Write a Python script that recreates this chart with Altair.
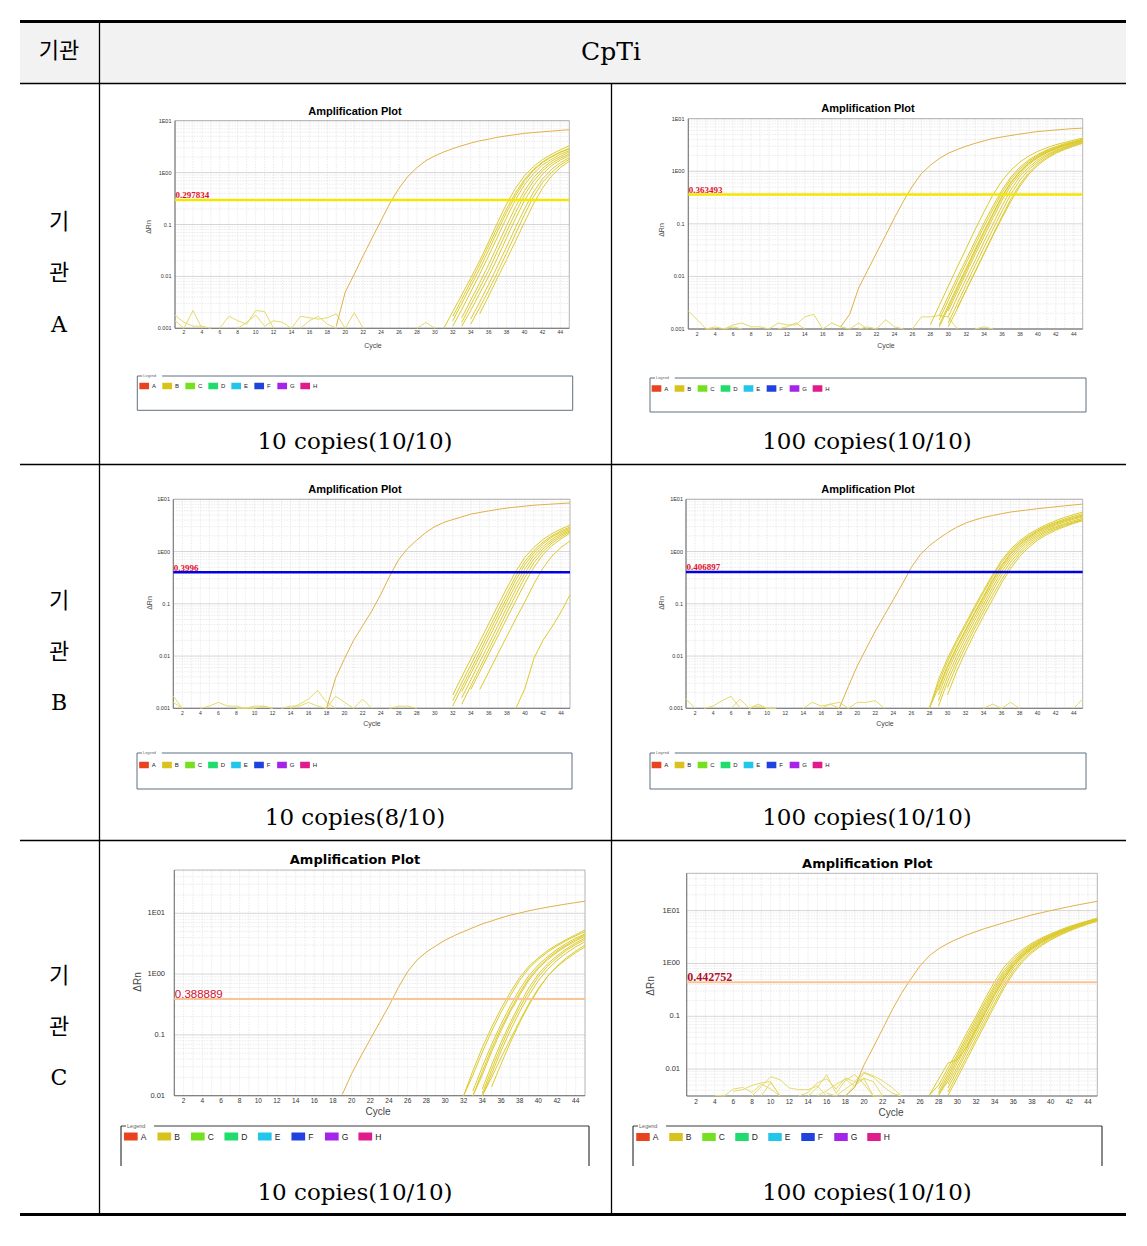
import altair as alt
import pandas as pd

# ---------------- values ----------------
# each curve: (first cycle, [delta Rn at consecutive cycles])
A10_early = [(19, [0.0011, 0.005, 0.011, 0.025, 0.055, 0.12, 0.26, 0.5, 0.85, 1.25, 1.7, 2.1, 2.5, 2.9,
                   3.3, 3.7, 4.1, 4.4, 4.8, 5.1, 5.4, 5.7, 5.9, 6.1, 6.3, 6.5, 6.7])]
A10_bundle = [
    (31, [0.001, 0.0021, 0.0044, 0.0093, 0.02, 0.046, 0.11, 0.25, 0.5, 0.87, 1.3, 1.78, 2.25, 2.75, 3.3]),
    (32, [0.0017, 0.0036, 0.0078, 0.017, 0.039, 0.09, 0.2, 0.41, 0.74, 1.15, 1.6, 2.05, 2.5, 2.95]),
    (32, [0.0014, 0.003, 0.0065, 0.014, 0.032, 0.075, 0.17, 0.36, 0.68, 1.1, 1.55, 2.0, 2.45, 2.85]),
    (32, [0.0011, 0.0023, 0.005, 0.011, 0.025, 0.058, 0.135, 0.3, 0.58, 0.95, 1.4, 1.8, 2.25, 2.65]),
    (33, [0.0016, 0.0035, 0.0075, 0.017, 0.04, 0.095, 0.22, 0.45, 0.8, 1.2, 1.65, 2.05, 2.5]),
    (33, [0.0013, 0.0028, 0.006, 0.013, 0.031, 0.073, 0.17, 0.37, 0.68, 1.08, 1.5, 1.9, 2.3]),
    (33, [0.0011, 0.0022, 0.0047, 0.01, 0.023, 0.055, 0.13, 0.29, 0.56, 0.93, 1.35, 1.75, 2.15]),
    (34, [0.0015, 0.0032, 0.007, 0.016, 0.037, 0.088, 0.2, 0.42, 0.75, 1.15, 1.55, 1.95]),
    (34, [0.0012, 0.0025, 0.0054, 0.012, 0.028, 0.066, 0.155, 0.34, 0.64, 1.0, 1.4, 1.8]),
    (35, [0.0019, 0.0042, 0.0095, 0.021, 0.048, 0.11, 0.25, 0.5, 0.85, 1.25, 1.65]),
]
A10_noise = [
    (1, [0.0018, 0.0013, 0.0011, 0.0011, 0.001]),
    (1, [0.0014, 0.001, 0.0022, 0.001]),
    (6, [0.001, 0.0017, 0.0014, 0.0012, 0.0022, 0.0021, 0.001]),
    (8, [0.001, 0.0013, 0.0018, 0.0011, 0.0014, 0.0013, 0.001]),
    (14, [0.001, 0.0017, 0.0016, 0.0015, 0.0016, 0.0019, 0.001]),
    (15, [0.001, 0.0014, 0.0017, 0.0012, 0.001]),
    (20, [0.001, 0.002, 0.001]),
    (28, [0.001, 0.0013, 0.001]),
]

A100_early = [(18, [0.0011, 0.0019, 0.006, 0.013, 0.028, 0.06, 0.13, 0.27, 0.52, 0.9, 1.3, 1.75, 2.2, 2.6,
                    3.0, 3.4, 3.8, 4.2, 4.5, 4.8, 5.1, 5.4, 5.7, 5.9, 6.1, 6.3, 6.5, 6.6])]
A100_bundle = [
    (28, [0.0012, 0.0028, 0.0065, 0.015, 0.034, 0.078, 0.17, 0.36, 0.66, 1.05, 1.5, 1.95, 2.4, 2.8, 3.2, 3.55, 3.9, 4.3]),
    (29, [0.0018, 0.0042, 0.0095, 0.021, 0.047, 0.105, 0.22, 0.44, 0.78, 1.2, 1.65, 2.1, 2.55, 2.95, 3.35, 3.7, 4.1]),
    (29, [0.0015, 0.0035, 0.008, 0.018, 0.04, 0.09, 0.19, 0.39, 0.71, 1.1, 1.55, 2.0, 2.45, 2.85, 3.25, 3.6, 4.0]),
    (29, [0.0012, 0.0028, 0.0064, 0.0145, 0.033, 0.074, 0.16, 0.34, 0.63, 1.0, 1.45, 1.9, 2.35, 2.75, 3.15, 3.5, 3.85]),
    (29, [0.0011, 0.0025, 0.0058, 0.013, 0.03, 0.068, 0.15, 0.32, 0.6, 0.98, 1.42, 1.88, 2.32, 2.72, 3.1, 3.45, 3.8]),
    (30, [0.0022, 0.005, 0.0115, 0.026, 0.058, 0.13, 0.28, 0.54, 0.9, 1.35, 1.8, 2.25, 2.65, 3.05, 3.45, 3.85]),
    (30, [0.0017, 0.004, 0.009, 0.02, 0.046, 0.1, 0.22, 0.45, 0.8, 1.2, 1.65, 2.1, 2.5, 2.9, 3.3, 3.7]),
    (30, [0.0013, 0.003, 0.007, 0.016, 0.036, 0.08, 0.175, 0.37, 0.68, 1.08, 1.52, 1.98, 2.4, 2.8, 3.2, 3.6]),
    (30, [0.0011, 0.0024, 0.0055, 0.0125, 0.028, 0.063, 0.14, 0.3, 0.57, 0.95, 1.4, 1.85, 2.3, 2.7, 3.1, 3.5]),
    (31, [0.0025, 0.0055, 0.012, 0.027, 0.06, 0.13, 0.27, 0.52, 0.88, 1.3, 1.75, 2.2, 2.6, 3.0, 3.4]),
]
A100_noise = [
    (1, [0.0022, 0.0015, 0.001, 0.001]),
    (3, [0.001, 0.0011, 0.001, 0.0011, 0.001]),
    (5, [0.001, 0.0012, 0.0013, 0.0011, 0.0011, 0.001]),
    (10, [0.001, 0.0013, 0.0012, 0.0012, 0.0017, 0.0019, 0.001]),
    (11, [0.001, 0.0011, 0.0013, 0.001]),
    (16, [0.001, 0.0013, 0.0011, 0.001, 0.0013, 0.001]),
    (20, [0.001, 0.0011, 0.001, 0.0015, 0.0011, 0.001]),
    (26, [0.001, 0.0017, 0.0017, 0.0018, 0.0017, 0.001]),
    (33, [0.001, 0.0011, 0.001]),
]

B10_early = [(18, [0.001, 0.0038, 0.009, 0.02, 0.038, 0.072, 0.15, 0.34, 0.7, 1.15, 1.65, 2.3, 3.0, 3.6,
                   4.1, 4.6, 5.2, 5.6, 6.0, 6.4, 6.8, 7.1, 7.4, 7.7, 7.9, 8.1, 8.3, 8.5])]
B10_bundle = [
    (32, [0.0018, 0.004, 0.0088, 0.019, 0.042, 0.093, 0.2, 0.42, 0.78, 1.2, 1.7, 2.2, 2.7, 3.2]),
    (32, [0.0014, 0.0031, 0.0068, 0.015, 0.033, 0.073, 0.16, 0.34, 0.65, 1.05, 1.52, 2.0, 2.5, 2.95]),
    (32, [0.0011, 0.0025, 0.0055, 0.012, 0.027, 0.06, 0.13, 0.29, 0.56, 0.95, 1.4, 1.9, 2.35, 2.8]),
    (33, [0.0021, 0.0046, 0.01, 0.022, 0.049, 0.108, 0.235, 0.47, 0.83, 1.25, 1.72, 2.2, 2.65]),
    (33, [0.0016, 0.0035, 0.0078, 0.017, 0.038, 0.085, 0.19, 0.39, 0.72, 1.12, 1.58, 2.05, 2.5]),
    (33, [0.0012, 0.0027, 0.006, 0.0135, 0.03, 0.068, 0.15, 0.32, 0.61, 1.0, 1.45, 1.9, 2.4]),
    (34, [0.0023, 0.005, 0.011, 0.024, 0.053, 0.115, 0.25, 0.5, 0.87, 1.3, 1.75, 2.25]),
    (35, [0.0023, 0.005, 0.011, 0.024, 0.052, 0.11, 0.24, 0.48, 0.82, 1.2, 1.6]),
    (39, [0.001, 0.0024, 0.009, 0.02, 0.036, 0.07, 0.148]),
]
B10_noise = [
    (1, [0.0017, 0.001]),
    (1, [0.0013, 0.001]),
    (4, [0.001, 0.0011, 0.0013, 0.0011, 0.0011, 0.001, 0.001, 0.0011, 0.001]),
    (8, [0.001, 0.001, 0.0011, 0.0011, 0.001]),
    (13, [0.001, 0.0011, 0.0011, 0.0013, 0.0011, 0.001]),
    (14, [0.001, 0.0012, 0.0015, 0.0022, 0.0013, 0.001]),
    (18, [0.001, 0.0017, 0.0013, 0.001]),
    (21, [0.001, 0.0015, 0.001]),
    (25, [0.001, 0.0011, 0.0011, 0.001]),
]

B100_early = [(18, [0.001, 0.0026, 0.0065, 0.014, 0.03, 0.06, 0.12, 0.24, 0.5, 0.88, 1.3, 1.75, 2.3, 2.9,
                    3.5, 4.0, 4.5, 4.9, 5.3, 5.7, 6.0, 6.3, 6.6, 6.9, 7.2, 7.5, 7.8, 8.1])]
B100_bundle = [
    (28, [0.001, 0.0035, 0.009, 0.02, 0.042, 0.088, 0.18, 0.36, 0.68, 1.1, 1.6, 2.15, 2.7, 3.3, 3.9, 4.5, 5.1, 5.7]),
    (28, [0.001, 0.003, 0.0078, 0.018, 0.038, 0.08, 0.165, 0.33, 0.62, 1.02, 1.5, 2.0, 2.55, 3.1, 3.65, 4.2, 4.75, 5.3]),
    (28, [0.001, 0.0025, 0.0065, 0.015, 0.032, 0.068, 0.14, 0.29, 0.55, 0.93, 1.4, 1.9, 2.45, 3.0, 3.5, 4.0, 4.5, 5.0]),
    (29, [0.0022, 0.006, 0.014, 0.03, 0.064, 0.13, 0.27, 0.52, 0.88, 1.33, 1.82, 2.35, 2.85, 3.35, 3.85, 4.35, 4.8]),
    (29, [0.0018, 0.005, 0.012, 0.026, 0.055, 0.115, 0.24, 0.47, 0.8, 1.22, 1.7, 2.2, 2.7, 3.2, 3.7, 4.15, 4.6]),
    (29, [0.0014, 0.004, 0.0098, 0.022, 0.047, 0.098, 0.205, 0.41, 0.72, 1.12, 1.58, 2.05, 2.55, 3.0, 3.45, 3.9, 4.3]),
    (29, [0.0011, 0.0032, 0.008, 0.018, 0.039, 0.083, 0.175, 0.35, 0.63, 1.0, 1.45, 1.92, 2.4, 2.85, 3.3, 3.7, 4.1]),
    (30, [0.0025, 0.0065, 0.015, 0.033, 0.07, 0.145, 0.29, 0.54, 0.9, 1.32, 1.78, 2.25, 2.7, 3.15, 3.6, 4.0]),
    (30, [0.0018, 0.005, 0.012, 0.027, 0.058, 0.12, 0.25, 0.47, 0.8, 1.2, 1.65, 2.1, 2.55, 3.0, 3.45, 3.9]),
]
B100_noise = [
    (1, [0.0015, 0.001]),
    (3, [0.001, 0.0011, 0.0014, 0.0017, 0.001]),
    (6, [0.001, 0.0015, 0.001, 0.0012, 0.001]),
    (8, [0.001, 0.0011, 0.001, 0.001]),
    (14, [0.001, 0.0013, 0.0011, 0.0012, 0.0013, 0.001]),
    (16, [0.001, 0.0012, 0.001]),
    (19, [0.001, 0.0013, 0.0013, 0.0014, 0.001]),
    (34, [0.001, 0.0012, 0.001, 0.0013, 0.001]),
    (44, [0.001, 0.0015]),
]

C10_early = [(19, [0.0105, 0.023, 0.045, 0.085, 0.16, 0.3, 0.6, 1.1, 1.7, 2.3, 2.9, 3.6, 4.3, 5.0, 5.8,
                   6.7, 7.5, 8.4, 9.3, 10.1, 11.0, 11.8, 12.6, 13.4, 14.2, 15.0, 15.8])]
C10_bundle = [
    (32, [0.01, 0.026, 0.062, 0.135, 0.27, 0.5, 0.88, 1.35, 1.85, 2.45, 3.05, 3.7, 4.45, 5.3]),
    (32, [0.01, 0.022, 0.052, 0.115, 0.235, 0.44, 0.79, 1.25, 1.75, 2.3, 2.9, 3.55, 4.25, 5.0]),
    (33, [0.012, 0.03, 0.07, 0.15, 0.3, 0.56, 0.95, 1.42, 1.95, 2.55, 3.2, 3.9, 4.6]),
    (33, [0.01, 0.025, 0.06, 0.13, 0.26, 0.49, 0.86, 1.3, 1.82, 2.4, 3.0, 3.7, 4.4]),
    (33, [0.01, 0.022, 0.053, 0.117, 0.24, 0.45, 0.8, 1.23, 1.72, 2.28, 2.88, 3.5, 4.2]),
    (34, [0.013, 0.032, 0.075, 0.16, 0.32, 0.6, 1.0, 1.48, 2.0, 2.6, 3.25, 3.9]),
    (34, [0.011, 0.027, 0.064, 0.14, 0.28, 0.52, 0.9, 1.35, 1.85, 2.45, 3.05, 3.7]),
    (34, [0.01, 0.023, 0.054, 0.118, 0.24, 0.45, 0.78, 1.2, 1.68, 2.22, 2.8, 3.4]),
    (35, [0.014, 0.033, 0.075, 0.16, 0.31, 0.56, 0.92, 1.35, 1.85, 2.4, 3.0]),
    (34, [0.01, 0.02, 0.042, 0.085, 0.17, 0.33, 0.58, 0.92, 1.32, 1.75, 2.25, 2.8]),
]
C10_noise = []

C100_early = [(18, [0.0031, 0.0045, 0.012, 0.026, 0.058, 0.13, 0.27, 0.5, 0.9, 1.4, 1.9, 2.4, 2.9, 3.45, 4.0,
                    4.6, 5.2, 5.9, 6.6, 7.4, 8.3, 9.1, 10.0, 10.9, 11.9, 12.9, 13.9, 15.0])]
C100_bundle = [
    (27, [0.0032, 0.005, 0.0105, 0.022, 0.048, 0.1, 0.22, 0.45, 0.85, 1.32, 1.85, 2.42, 3.02, 3.65, 4.3, 5.0, 5.7, 6.4, 7.2]),
    (28, [0.0042, 0.009, 0.019, 0.041, 0.088, 0.19, 0.39, 0.74, 1.2, 1.72, 2.3, 2.9, 3.5, 4.15, 4.85, 5.55, 6.3, 7.0]),
    (28, [0.0036, 0.0078, 0.017, 0.036, 0.078, 0.17, 0.35, 0.67, 1.1, 1.62, 2.2, 2.8, 3.4, 4.05, 4.75, 5.45, 6.2, 6.9]),
    (28, [0.0033, 0.0068, 0.015, 0.032, 0.069, 0.15, 0.32, 0.61, 1.03, 1.54, 2.1, 2.7, 3.32, 3.98, 4.65, 5.35, 6.1, 6.8]),
    (28, [0.0032, 0.006, 0.013, 0.028, 0.061, 0.133, 0.285, 0.56, 0.97, 1.47, 2.02, 2.62, 3.25, 3.9, 4.58, 5.3, 6.0, 6.7]),
    (29, [0.0052, 0.011, 0.024, 0.052, 0.115, 0.25, 0.5, 0.9, 1.38, 1.92, 2.52, 3.15, 3.8, 4.48, 5.2, 5.95, 6.7]),
    (29, [0.0044, 0.0095, 0.021, 0.045, 0.098, 0.215, 0.44, 0.82, 1.3, 1.84, 2.42, 3.05, 3.7, 4.38, 5.1, 5.85, 6.6]),
    (29, [0.0037, 0.008, 0.0175, 0.038, 0.083, 0.18, 0.38, 0.72, 1.18, 1.7, 2.28, 2.9, 3.55, 4.22, 4.95, 5.7, 6.45]),
    (29, [0.0032, 0.0068, 0.015, 0.033, 0.072, 0.158, 0.34, 0.65, 1.08, 1.6, 2.16, 2.78, 3.42, 4.1, 4.82, 5.55, 6.3]),
    (27, [0.0032, 0.0065, 0.013, 0.015, 0.026, 0.056, 0.12, 0.26, 0.52, 0.92, 1.42, 1.97, 2.57, 3.2, 3.85, 4.55, 5.3, 6.05, 6.8]),
]
C100_noise = [
    (4, [0.0032, 0.0031, 0.0042, 0.0045, 0.0036, 0.0052, 0.0042, 0.0031]),
    (6, [0.0038, 0.0041, 0.0049, 0.0055, 0.0058, 0.0031]),
    (8, [0.0031, 0.0047, 0.0072, 0.0063, 0.0044, 0.0041, 0.0041, 0.0048, 0.0031]),
    (9, [0.0031, 0.0056, 0.0031]),
    (13, [0.0031, 0.0036, 0.0055, 0.0066, 0.0042, 0.0068, 0.0058, 0.0087, 0.0075, 0.006, 0.0045, 0.0031]),
    (14, [0.0031, 0.0045, 0.0078, 0.0035, 0.0061, 0.0079, 0.0052, 0.0031, 0.0031]),
    (15, [0.0031, 0.0039, 0.0052, 0.0064, 0.0048, 0.0084, 0.0071, 0.0048, 0.0035, 0.0031]),
    (16, [0.0035, 0.0031, 0.0042, 0.0056, 0.0067, 0.0058, 0.0031]),
    (18, [0.0031, 0.0049, 0.0066, 0.0031]),
]

thresholds = {"A10": 0.297834, "A100": 0.363493, "B10": 0.3996, "B100": 0.406897,
              "C10": 0.388889, "C100": 0.442752}
threshold_labels = {"A10": "0.297834", "A100": "0.363493", "B10": "0.3996", "B100": "0.406897",
                    "C10": "0.388889", "C100": "0.442752"}
captions = {"A10": "10 copies(10/10)", "A100": "100 copies(10/10)", "B10": "10 copies(8/10)",
            "B100": "100 copies(10/10)", "C10": "10 copies(10/10)", "C100": "100 copies(10/10)"}
row_labels = {"A": ["기", "관", "A"], "B": ["기", "관", "B"], "C": ["기", "관", "C"]}
header_left = "기관"
header_right = "CpTi"
plot_title = "Amplification Plot"

x_tick_cycles = [2, 4, 6, 8, 10, 12, 14, 16, 18, 20, 22, 24, 26, 28, 30, 32, 34, 36, 38, 40, 42, 44]
y_ticks_AB = [10, 1, 0.1, 0.01, 0.001]
y_tick_labels_AB = ["1E01", "1E00", "0.1", "0.01", "0.001"]
y_ticks_C = [10, 1, 0.1, 0.01]
y_tick_labels_C = ["1E01", "1E00", "0.1", "0.01"]

legend_labels = ["A", "B", "C", "D", "E", "F", "G", "H"]
legend_colors = ["#e8421e", "#d9c21c", "#74e01f", "#1fdc6c", "#22c6ea", "#2042df", "#a623ea", "#e01b8c"]

# ---------------- layout ----------------
def P(v):
    return v - 8  # page pixel -> chart pixel (8px page margin)

SERIF = "DejaVu Serif"
SANS = "Liberation Sans"
KR = "Noto Sans CJK KR"
ONE = pd.DataFrame({"k": [0]})

PANELS = [
    dict(key="A10", early=A10_early, bundle=A10_bundle, noise=A10_noise,
         x0=175, x1=569.3, yt=120.7, yb=328.3, ydom=[0.001, 10], yt_v=y_ticks_AB, yt_l=y_tick_labels_AB,
         title=(355, 111.5), tsize=11, tfont=SANS, cycle=(373, 345.5), drn=(148.5, 227), ylab_x=171.5,
         xlab_y=332, fs_y=5.5, fs_x=5, fs_c=7, thr_color="#f3e600", thr_w=2.5,
         thr_font="Liberation Serif", thr_size=9, thr_fc="#e0102a", thr_weight="bold"),
    dict(key="A100", early=A100_early, bundle=A100_bundle, noise=A100_noise,
         x0=688.3, x1=1082.7, yt=118.7, yb=329, ydom=[0.001, 10], yt_v=y_ticks_AB, yt_l=y_tick_labels_AB,
         title=(868, 109), tsize=11, tfont=SANS, cycle=(886, 346), drn=(661.5, 230), ylab_x=684.5,
         xlab_y=334, fs_y=5.5, fs_x=5, fs_c=7, thr_color="#f3e600", thr_w=2.5,
         thr_font="Liberation Serif", thr_size=9, thr_fc="#e0102a", thr_weight="bold"),
    dict(key="B10", early=B10_early, bundle=B10_bundle, noise=B10_noise,
         x0=173.3, x1=570, yt=499.3, yb=708.3, ydom=[0.001, 10], yt_v=y_ticks_AB, yt_l=y_tick_labels_AB,
         title=(355, 490), tsize=11, tfont=SANS, cycle=(372, 724), drn=(150, 603), ylab_x=170,
         xlab_y=712.5, fs_y=5.5, fs_x=5, fs_c=7, thr_color="#0000e0", thr_w=2.5,
         thr_font="Liberation Serif", thr_size=9, thr_fc="#e0102a", thr_weight="bold"),
    dict(key="B100", early=B100_early, bundle=B100_bundle, noise=B100_noise,
         x0=686, x1=1082.7, yt=499.3, yb=708.3, ydom=[0.001, 10], yt_v=y_ticks_AB, yt_l=y_tick_labels_AB,
         title=(868, 490), tsize=11, tfont=SANS, cycle=(885, 724), drn=(661.5, 603), ylab_x=683,
         xlab_y=712.5, fs_y=5.5, fs_x=5, fs_c=7, thr_color="#0000e0", thr_w=2.5,
         thr_font="Liberation Serif", thr_size=9, thr_fc="#e0102a", thr_weight="bold"),
    dict(key="C10", early=C10_early, bundle=C10_bundle, noise=C10_noise,
         x0=174.3, x1=585, yt=870, yb=1095.7, ydom=[0.01, 51.5], yt_v=y_ticks_C, yt_l=y_tick_labels_C,
         title=(355, 860), tsize=13, tfont="DejaVu Sans", cycle=(378, 1112), drn=(137.5, 982), ylab_x=165,
         xlab_y=1100.5, fs_y=7.5, fs_x=6.5, fs_c=10, thr_color="#f8c596", thr_w=2,
         thr_font=SANS, thr_size=11.5, thr_fc="#d01030", thr_weight="normal"),
    dict(key="C100", early=C100_early, bundle=C100_bundle, noise=C100_noise,
         x0=686.7, x1=1097.3, yt=873.3, yb=1096, ydom=[0.0031, 50.8], yt_v=y_ticks_C, yt_l=y_tick_labels_C,
         title=(867.3, 864), tsize=13, tfont="DejaVu Sans", cycle=(891, 1113), drn=(650.5, 986), ylab_x=680,
         xlab_y=1102, fs_y=7.5, fs_x=6.5, fs_c=10, thr_color="#f8c596", thr_w=2,
         thr_font="Liberation Serif", thr_size=12, thr_fc="#b01028", thr_weight="bold"),
]

LEGENDS = [
    dict(box=(137.3, 572.7, 376, 410.3), c0=144.2, sp=23, w=9.7, h=6.5, y=386, fs=6, open=False),
    dict(box=(650, 1086, 378, 412), c0=656.5, sp=23, w=9.7, h=6.5, y=388.5, fs=6, open=False),
    dict(box=(137, 572, 753, 789), c0=144, sp=23, w=9.7, h=6.5, y=765, fs=6, open=False),
    dict(box=(650, 1086, 753, 789), c0=656.5, sp=23, w=9.7, h=6.5, y=765, fs=6, open=False),
    dict(box=(121, 589, 1126, 1166), c0=130.8, sp=33.5, w=13.7, h=8, y=1136.5, fs=8.5, open=True),
    dict(box=(633, 1102, 1126, 1166), c0=643, sp=33, w=13.5, h=8, y=1137, fs=8.5, open=True),
]

CAPTION_XY = {"A10": (355, 442), "A100": (867, 442), "B10": (355, 818), "B100": (867, 818),
              "C10": (355, 1193), "C100": (867, 1193)}


def txt(s, x, y, size, font, color="#000000", weight="normal", angle=0, align="center",
        baseline="middle"):
    return alt.Chart(pd.DataFrame({"t": [s]})).mark_text(
        fontSize=size, font=font, color=color, fontWeight=weight, angle=angle, align=align,
        baseline=baseline).encode(text="t:N", x=alt.value(P(x)), y=alt.value(P(y)))


def hrule(x0, x1, y, w=1.3, color="#000000"):
    return alt.Chart(ONE).mark_rule(color=color, strokeWidth=w).encode(
        x=alt.value(P(x0)), x2=alt.value(P(x1)), y=alt.value(P(y)))


def vrule(x, y0, y1, w=1.3, color="#000000"):
    return alt.Chart(ONE).mark_rule(color=color, strokeWidth=w).encode(
        x=alt.value(P(x)), y=alt.value(P(y0)), y2=alt.value(P(y1)))


def curves_df(early, bundle, noise):
    rows = []
    for kind, group in (("noise", noise), ("bundle", bundle), ("early", early)):
        for i, (start, vals) in enumerate(group):
            for j, v in enumerate(vals):
                c = start + j
                if c <= 45:
                    rows.append({"id": f"{kind}{i}", "kind": kind, "cycle": c, "rn": v})
    return pd.DataFrame(rows)


def panel(c):
    xs = alt.Scale(domain=[1, 45], range=[P(c["x0"]), P(c["x1"])], nice=False, zero=False)
    ys = alt.Scale(type="log", domain=c["ydom"], range=[P(c["yb"]), P(c["yt"])], nice=False)

    def X():
        return alt.X("cycle:Q", scale=xs, axis=None)

    def Y():
        return alt.Y("rn:Q", scale=ys, axis=None)

    lo, hi = c["ydom"]
    minor = [k * 10 ** e for e in range(-3, 2) for k in range(2, 10) if lo <= k * 10 ** e <= hi]
    major = [10 ** e for e in range(-3, 2) if lo <= 10 ** e <= hi]
    grid_cycles = list(range(1, 46))

    layers = []
    layers.append(alt.Chart(pd.DataFrame({"cycle": grid_cycles})).mark_rule(
        color="#dedede", strokeWidth=0.6, strokeDash=[1.5, 1.2]).encode(
        x=X(), y=alt.value(P(c["yt"])), y2=alt.value(P(c["yb"]))))
    layers.append(alt.Chart(pd.DataFrame({"rn": minor})).mark_rule(
        color="#dedede", strokeWidth=0.6, strokeDash=[1.5, 1.2]).encode(
        y=Y(), x=alt.value(P(c["x0"])), x2=alt.value(P(c["x1"]))))
    layers.append(alt.Chart(pd.DataFrame({"rn": major})).mark_rule(
        color="#cccccc", strokeWidth=0.8).encode(
        y=Y(), x=alt.value(P(c["x0"])), x2=alt.value(P(c["x1"]))))
    # frame
    layers.append(alt.Chart(ONE).mark_rect(fillOpacity=0, stroke="#a8a8a8", strokeWidth=0.8).encode(
        x=alt.value(P(c["x0"])), x2=alt.value(P(c["x1"])), y=alt.value(P(c["yt"])), y2=alt.value(P(c["yb"]))))
    layers.append(vrule(c["x0"], c["yt"], c["yb"], w=0.9, color="#6e6e6e"))
    layers.append(hrule(c["x0"], c["x1"], c["yb"], w=0.9, color="#6e6e6e"))

    df = curves_df(c["early"], c["bundle"], c["noise"])
    layers.append(alt.Chart(df).mark_line(strokeWidth=1, interpolate="linear").encode(
        x=X(), y=Y(), detail="id:N",
        color=alt.Color("kind:N", scale=alt.Scale(domain=["noise", "bundle", "early"],
                                                  range=["#e5db6a", "#dccb2e", "#e0b148"]),
                        legend=None)))

    thr = pd.DataFrame({"rn": [thresholds[c["key"]]], "lab": [threshold_labels[c["key"]]]})
    layers.append(alt.Chart(thr).mark_rule(color=c["thr_color"], strokeWidth=c["thr_w"]).encode(
        y=Y(), x=alt.value(P(c["x0"])), x2=alt.value(P(c["x1"]))))
    layers.append(alt.Chart(thr).mark_text(
        align="left", baseline="alphabetic", dy=-1.5, font=c["thr_font"], fontSize=c["thr_size"],
        fontWeight=c["thr_weight"], color=c["thr_fc"]).encode(
        y=Y(), x=alt.value(P(c["x0"]) + 0.5), text="lab:N"))

    layers.append(alt.Chart(pd.DataFrame({"rn": c["yt_v"], "lab": c["yt_l"]})).mark_text(
        align="right", baseline="middle", font=SANS, fontSize=c["fs_y"], color="#333333").encode(
        y=Y(), x=alt.value(P(c["ylab_x"])), text="lab:N"))
    layers.append(alt.Chart(pd.DataFrame({"cycle": x_tick_cycles,
                                          "lab": [str(v) for v in x_tick_cycles]})).mark_text(
        align="center", baseline="middle", font=SANS, fontSize=c["fs_x"], color="#333333").encode(
        x=X(), y=alt.value(P(c["xlab_y"])), text="lab:N"))

    layers.append(txt(plot_title, c["title"][0], c["title"][1], c["tsize"], c["tfont"], weight="bold"))
    layers.append(txt("Cycle", c["cycle"][0], c["cycle"][1], c["fs_c"], SANS, color="#444444"))
    layers.append(txt("ΔRn", c["drn"][0], c["drn"][1], c["fs_c"], SANS, color="#444444", angle=270))
    return alt.layer(*layers)


def legend(g):
    x0, x1, yt, yb = g["box"]
    out = []
    if g["open"]:
        out.append(hrule(x0, x1, yt, w=1.2, color="#3a3a3a"))
        out.append(vrule(x0, yt, yb, w=1.2, color="#3a3a3a"))
        out.append(vrule(x1, yt, yb, w=1.2, color="#3a3a3a"))
    else:
        out.append(alt.Chart(ONE).mark_rect(fillOpacity=0, stroke="#5f6f80", strokeWidth=1).encode(
            x=alt.value(P(x0)), x2=alt.value(P(x1)), y=alt.value(P(yt)), y2=alt.value(P(yb))))
    out.append(alt.Chart(ONE).mark_rect(fill="#ffffff").encode(
        x=alt.value(P(x0 + 5)), x2=alt.value(P(x0 + 5 + g["fs"] * 3.3)),
        y=alt.value(P(yt - 1)), y2=alt.value(P(yt + 1))))
    out.append(txt("Legend", x0 + 6, yt, g["fs"] * 0.65, SANS, color="#666666", align="left"))
    ls = alt.Scale(type="point", domain=legend_labels,
                   range=[P(g["c0"]), P(g["c0"] + 7 * g["sp"])], padding=0)
    ldf = pd.DataFrame({"lab": legend_labels, "col": legend_colors})
    hh = g["h"] / g["w"]
    shape = f"M-1,-{hh:.3f}H1V{hh:.3f}H-1Z"
    out.append(alt.Chart(ldf).mark_point(shape=shape, size=g["w"] ** 2, filled=True, opacity=1,
                                         strokeWidth=0).encode(
        x=alt.X("lab:N", scale=ls, axis=None), y=alt.value(P(g["y"])),
        color=alt.Color("col:N", scale=None)))
    out.append(alt.Chart(ldf).mark_text(align="left", baseline="middle", dx=g["w"] / 2 + 3,
                                        font=SANS, fontSize=g["fs"], color="#222222").encode(
        x=alt.X("lab:N", scale=ls, axis=None), y=alt.value(P(g["y"])), text="lab:N"))
    return out


layers = []
# header background and table rules
layers.append(alt.Chart(ONE).mark_rect(fill="#f2f2f2").encode(
    x=alt.value(P(20)), x2=alt.value(P(1126)), y=alt.value(P(22)), y2=alt.value(P(83))))
layers.append(hrule(20, 1126, 21.5, w=3))
layers.append(hrule(20, 1126, 83.5))
layers.append(hrule(20, 1126, 464.5))
layers.append(hrule(20, 1126, 840.5))
layers.append(hrule(20, 1126, 1214.5, w=3))
layers.append(vrule(99.5, 23, 1213))
layers.append(vrule(611.5, 84, 1213))

layers.append(txt(header_left, 59, 51, 22, KR))
layers.append(txt(header_right, 611, 52, 25, SERIF))
for key, ys_ in (("A", (222, 273, 325)), ("B", (601, 652, 703)), ("C", (976, 1027, 1078))):
    for s, yy in zip(row_labels[key], ys_):
        layers.append(txt(s, 59, yy, 22, KR if s in ("기", "관") else SERIF))

for c in PANELS:
    layers.append(panel(c))
for g in LEGENDS:
    layers.extend(legend(g))
for k, (cx, cy) in CAPTION_XY.items():
    layers.append(txt(captions[k], cx, cy, 23, SERIF))

chart = alt.layer(*layers).resolve_scale(
    x="independent", y="independent", color="independent"
).properties(
    width=1131, height=1230, padding=0, autosize=alt.AutoSizeParams(type="none")
).configure_view(stroke=None)

chart.save("out.html", embed_options={"renderer": "svg", "actions": False})
